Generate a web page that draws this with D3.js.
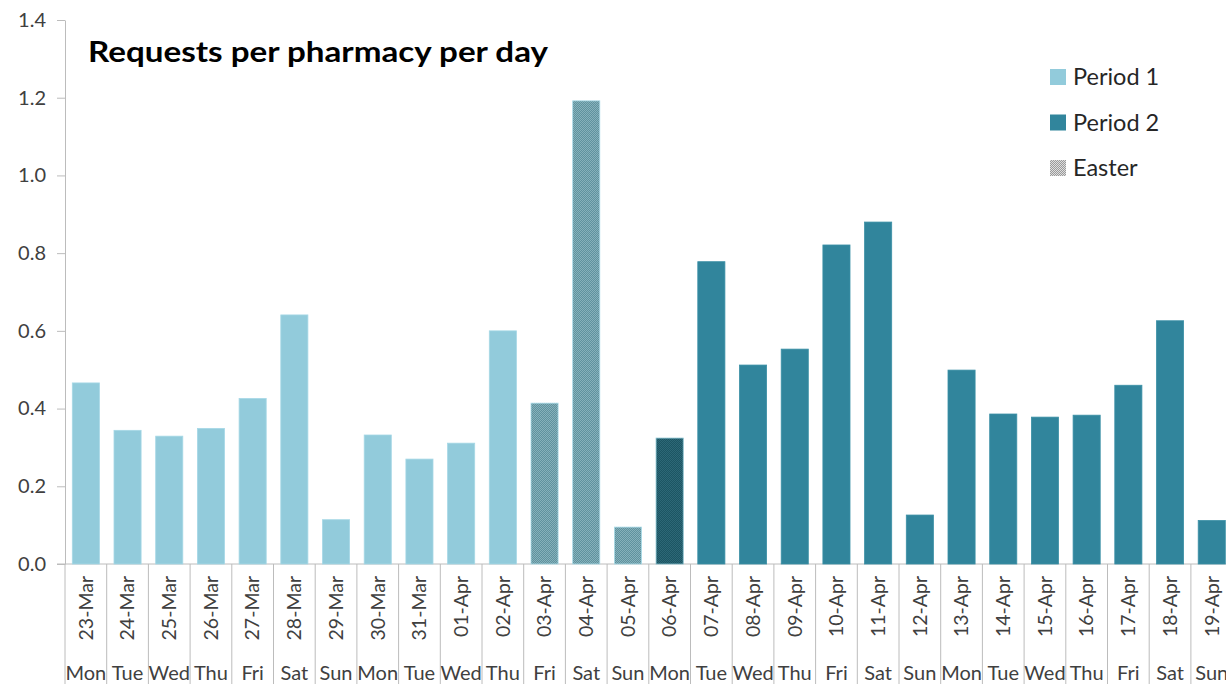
<!DOCTYPE html>
<html>
<head>
<meta charset="utf-8">
<script src="https://cdn.jsdelivr.net/npm/d3@7"></script>
<style>
  html, body { margin: 0; padding: 0; background: #fff; }
  svg { display: block; font-family: Lato, "Liberation Sans", sans-serif; }
</style>
</head>
<body>
<svg id="chart" width="1226" height="684"></svg>
<script>
// Daily requests per pharmacy, 23 Mar – 19 Apr
const dates = ["23-Mar","24-Mar","25-Mar","26-Mar","27-Mar","28-Mar","29-Mar","30-Mar","31-Mar",
  "01-Apr","02-Apr","03-Apr","04-Apr","05-Apr","06-Apr","07-Apr","08-Apr","09-Apr","10-Apr",
  "11-Apr","12-Apr","13-Apr","14-Apr","15-Apr","16-Apr","17-Apr","18-Apr","19-Apr"];
const days = ["Mon","Tue","Wed","Thu","Fri","Sat","Sun","Mon","Tue","Wed","Thu","Fri","Sat","Sun",
  "Mon","Tue","Wed","Thu","Fri","Sat","Sun","Mon","Tue","Wed","Thu","Fri","Sat","Sun"];
const values = [0.466, 0.344, 0.329, 0.349, 0.426, 0.641, 0.114, 0.332, 0.270, 0.311, 0.600,
  0.414, 1.192, 0.095, 0.324, 0.778, 0.512, 0.553, 0.821, 0.880, 0.126, 0.499, 0.386, 0.378,
  0.383, 0.460, 0.626, 0.112];
const groups = ["p1","p1","p1","p1","p1","p1","p1","p1","p1","p1","p1",
  "easter","easter","easter","easterMon",
  "p2","p2","p2","p2","p2","p2","p2","p2","p2","p2","p2","p2","p2"];
const yTicks = [0, 0.2, 0.4, 0.6, 0.8, 1.0, 1.2, 1.4];
const legendLabels = ["Period 1", "Period 2", "Easter"];
const legendKeys = ["p1", "p2", "legendEaster"];

const svg = d3.select("#chart");
const axisColor = "#bcbcbc";
const textColor = "#404040";

// Checkered fills for the Easter bars and legend key
const defs = svg.append("defs");
function checker(id, a, b) {
  const p = defs.append("pattern").attr("id", id)
    .attr("patternUnits", "userSpaceOnUse").attr("width", 2).attr("height", 2);
  p.append("rect").attr("width", 2).attr("height", 2).attr("fill", a);
  p.append("rect").attr("width", 1).attr("height", 1).attr("fill", b);
  p.append("rect").attr("x", 1).attr("y", 1).attr("width", 1).attr("height", 1).attr("fill", b);
}
checker("patEaster", "#5f929e", "#86b1bb");
checker("patEasterMon", "#1c5563", "#2d6877");
checker("patLegend", "#9a9a9a", "#dedede");

const fills = {
  p1: "#92cbdb",
  p2: "#31859c",
  easter: "url(#patEaster)",
  easterMon: "url(#patEasterMon)",
  legendEaster: "url(#patLegend)"
};
const strokes = { p1: "#a6d8e6", p2: "#3b90a6", easter: "#a9dbe8", easterMon: "#7fbccb" };

const x0 = 65, step = 41.7;
const x = d3.scaleBand().domain(dates)
  .range([x0, x0 + step * dates.length])
  .paddingInner(0.35).paddingOuter(0.175);
const y = d3.scaleLinear().domain([0, 1.4]).range([564, 20]);

// Value axis
const yAxis = d3.axisLeft(y).tickValues(yTicks).tickFormat(d3.format(".1f")).tickSize(8).tickSizeOuter(0);
const gy = svg.append("g").attr("transform", `translate(${x0},0)`).call(yAxis);
gy.select(".domain").attr("stroke", axisColor);
gy.selectAll(".tick line").attr("stroke", axisColor);
gy.selectAll(".tick text").attr("x", -19).attr("fill", textColor)
  .style("font-size", "20px").style("font-family", "Lato, sans-serif");

// Category axis baseline and band separators
svg.append("line").attr("x1", x0 - 8).attr("x2", 1226).attr("y1", y(0)).attr("y2", y(0))
  .attr("stroke", axisColor);
const bounds = dates.map(d => x(d) - x.step() * x.paddingInner() / 2);
bounds.push(bounds[bounds.length - 1] + x.step());
svg.append("g").selectAll("line").data(bounds).join("line")
  .attr("x1", d => d).attr("x2", d => d)
  .attr("y1", y(0)).attr("y2", 684)
  .attr("stroke", axisColor);

// Bars
svg.append("g").selectAll("rect").data(dates).join("rect")
  .attr("x", d => x(d))
  .attr("y", (d, i) => y(values[i]))
  .attr("width", x.bandwidth())
  .attr("height", (d, i) => y(0) - y(values[i]))
  .attr("fill", (d, i) => fills[groups[i]])
  .attr("stroke", (d, i) => strokes[groups[i]])
  .attr("stroke-width", 0.8);

// Date labels (rotated) and weekday labels
svg.append("g").selectAll("text").data(dates).join("text")
  .attr("transform", d => `translate(${x(d) + x.bandwidth() / 2},576) rotate(-90)`)
  .attr("text-anchor", "end").attr("dy", "0.35em")
  .attr("fill", textColor).style("font-size", "19.5px")
  .text(d => d);
svg.append("g").selectAll("text").data(dates).join("text")
  .attr("x", d => x(d) + x.bandwidth() / 2).attr("y", 680)
  .attr("text-anchor", "middle")
  .attr("fill", textColor).style("font-size", "20px")
  .text((d, i) => days[i]);

// Title
svg.append("text").attr("x", 88).attr("y", 62)
  .attr("fill", "#000").style("font-size", "29px").style("font-weight", "bold")
  .attr("textLength", 460).attr("lengthAdjust", "spacingAndGlyphs")
  .text("Requests per pharmacy per day");

// Legend
const lg = svg.append("g").selectAll("g").data(legendLabels).join("g")
  .attr("transform", (d, i) => `translate(1050,${69 + i * 45.5})`);
lg.append("rect").attr("width", 16).attr("height", 16)
  .attr("fill", (d, i) => fills[legendKeys[i]]);
lg.append("text").attr("x", 23).attr("y", 8).attr("dy", "0.35em")
  .attr("fill", "#262626").style("font-size", "23.5px")
  .text(d => d);
</script>
</body>
</html>
